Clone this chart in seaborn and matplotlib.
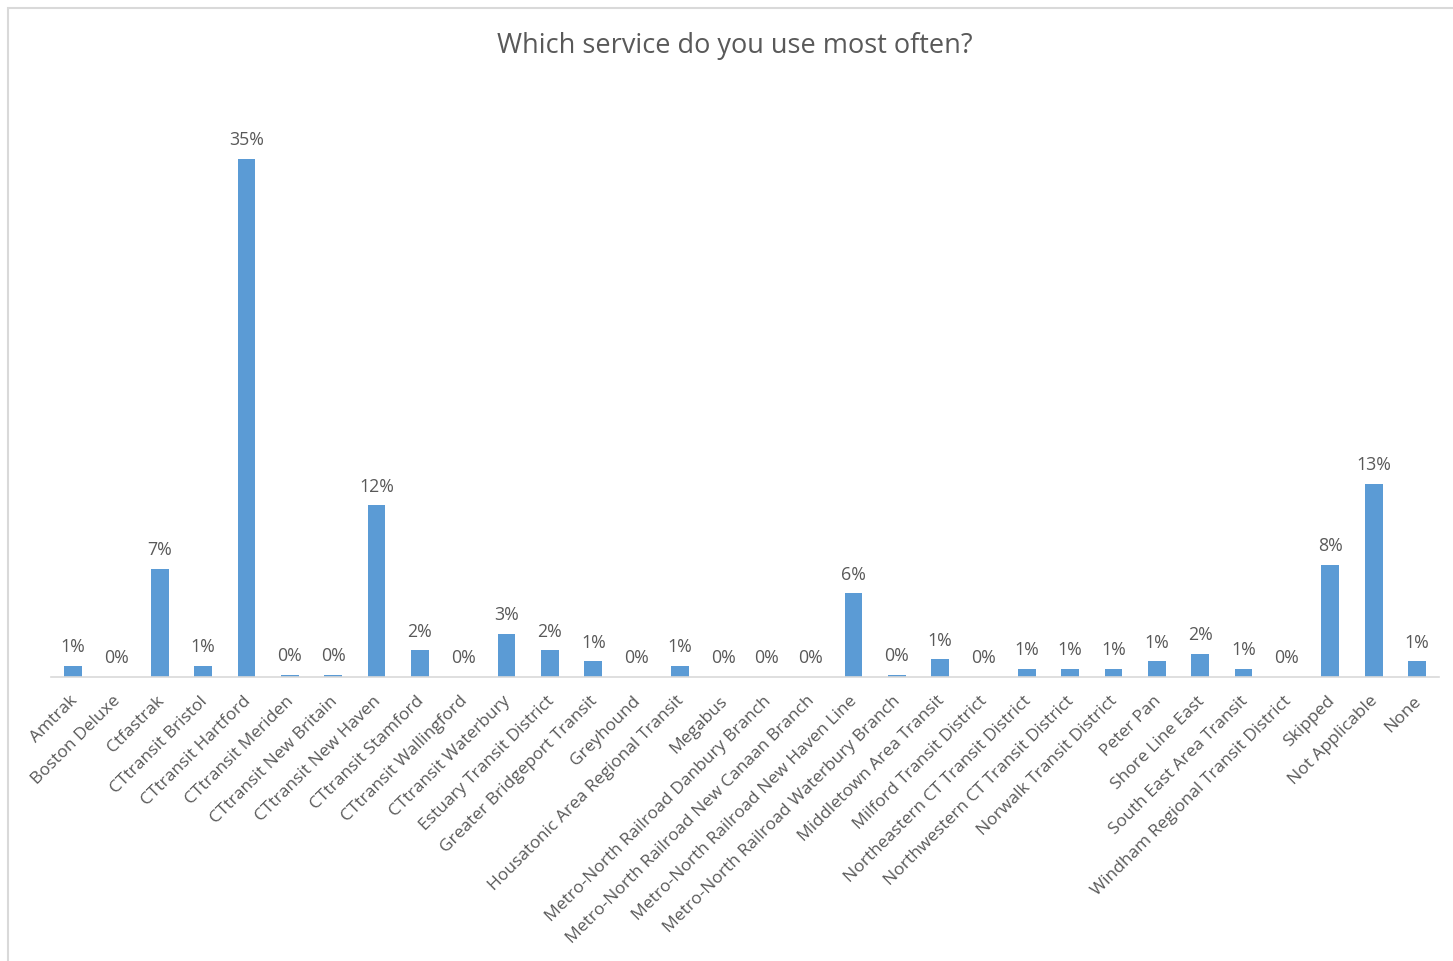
import matplotlib
matplotlib.use("Agg")
import matplotlib.pyplot as plt
import matplotlib.patches as mpatches
import matplotlib.transforms as mtrans
import numpy as np
import pandas as pd
import seaborn as sns

categories = [
    "Amtrak", "Boston Deluxe", "Ctfastrak", "CTtransit Bristol", "CTtransit Hartford",
    "CTtransit Meriden", "CTtransit New Britain", "CTtransit New Haven", "CTtransit Stamford",
    "CTtransit Wallingford", "CTtransit Waterbury", "Estuary Transit District",
    "Greater Bridgeport Transit", "Greyhound", "Housatonic Area Regional Transit", "Megabus",
    "Metro-North Railroad Danbury Branch", "Metro-North Railroad New Canaan Branch",
    "Metro-North Railroad New Haven Line", "Metro-North Railroad Waterbury Branch",
    "Middletown Area Transit", "Milford Transit District", "Northeastern CT Transit District",
    "Northwestern CT Transit District", "Norwalk Transit District", "Peter Pan",
    "Shore Line East", "South East Area Transit", "Windham Regional Transit District",
    "Skipped", "Not Applicable", "None",
]
values = [
    0.75, 0.0, 7.3, 0.75, 35.0,
    0.15, 0.15, 11.6, 1.8,
    0.0, 2.9, 1.8,
    1.05, 0.0, 0.75, 0.0,
    0.0, 0.0,
    5.65, 0.15,
    1.2, 0.0, 0.55,
    0.55, 0.55, 1.05,
    1.55, 0.55, 0.0,
    7.6, 13.05, 1.05,
]
title = "Which service do you use most often?"

df = pd.DataFrame({"service": categories, "pct": values})

W, H = 1453, 961
fig = plt.figure(figsize=(W / 100, H / 100), dpi=100)
sns.set_style("white")
plt.rcParams["font.family"] = ["Open Sans", "DejaVu Sans"]

ax_left, ax_right = 51.3, 1438.7
ax_base, ax_top = 677, 114.6
ax = fig.add_axes([ax_left / W, (H - ax_base) / H, (ax_right - ax_left) / W, (ax_base - ax_top) / H])

sns.barplot(data=df, x="service", y="pct", color="#5B9BD5", width=0.41, ax=ax,
            saturation=1, edgecolor="none")
ax.set_ylim(0, 38.0)
ax.set_xlim(-0.5, len(categories) - 0.5)

txt = "#595959"
for i, v in enumerate(values):
    ax.annotate(f"{np.floor(v + 0.5):.0f}%", (i, v), xytext=(0, 7), textcoords="offset points",
                ha="center", va="bottom", fontsize=12.8, color=txt)

ax.set_xticks(range(len(categories)))
ax.set_xticklabels(categories, rotation=45, ha="right", rotation_mode="anchor",
                   fontsize=12.5, color=txt)
ax.tick_params(axis="x", length=0, pad=8)
shift = mtrans.ScaledTranslation(-4 / 100, -5 / 100, fig.dpi_scale_trans)
for lab in ax.get_xticklabels():
    lab.set_transform(lab.get_transform() + shift)
ax.set_yticks([])
ax.set_xlabel("")
ax.set_ylabel("")
for s in ["left", "right", "top"]:
    ax.spines[s].set_visible(False)
ax.spines["bottom"].set_color("#d9d9d9")
ax.spines["bottom"].set_linewidth(1.2)

fig.text(735 / W, (H - 46) / H, title, ha="center", va="center", fontsize=19.5, color=txt)

border = mpatches.Rectangle((8 / W, -0.5), 2.0, (H - 8) / H + 0.5, transform=fig.transFigure,
                            fill=False, edgecolor="#d9d9d9", linewidth=1.5)
fig.patches.append(border)

fig.savefig("out.png", dpi=100)
